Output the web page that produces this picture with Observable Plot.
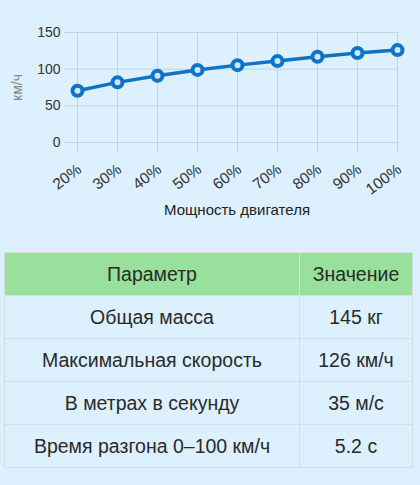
<!DOCTYPE html>
<html>
<head>
<meta charset="utf-8">
<script src="https://cdn.jsdelivr.net/npm/d3@7"></script>
<script src="https://cdn.jsdelivr.net/npm/@observablehq/plot@0.6"></script>
<style>
  html, body { margin: 0; padding: 0; background: #ddf0fd; }
  body { width: 420px; height: 485px; overflow: hidden; font-family: "Liberation Sans", Arial, sans-serif; }
  #chart svg { display: block; background: transparent; }
  table { border-collapse: collapse; margin: 22px 0 0 4px; width: 409px; font-size: 19.5px; color: #2a2a2a; }
  th, td { border: 1px solid #d6dde3; text-align: center; font-weight: normal; padding: 0; }
  th { background: #98e09c; height: 42px; }
  td { height: 42px; }
  td:first-child, th:first-child { width: 294px; }
</style>
</head>
<body>
<div id="chart"></div>
<div id="table"></div>
<script>
const powerLabels = ["20%", "30%", "40%", "50%", "60%", "70%", "80%", "90%", "100%"];
const speeds = [70.5, 82, 91, 99, 105.5, 111, 117, 122, 126];
const yTicks = [0, 50, 100, 150];
const params = ["Общая масса", "Максимальная скорость", "В метрах в секунду", "Время разгона 0–100 км/ч"];
const paramValues = ["145 кг", "126 км/ч", "35 м/с", "5.2 с"];
const headers = ["Параметр", "Значение"];

const data = powerLabels.map((p, i) => ({power: p, speed: speeds[i]}));
const gridColor = "#c3d3df";

const chart = Plot.plot({
  width: 420,
  height: 230,
  marginLeft: 74,
  marginRight: 21,
  marginTop: 32,
  marginBottom: 88,
  style: {fontFamily: "'Liberation Sans', Arial, sans-serif", background: "transparent"},
  x: {type: "point", domain: powerLabels, padding: 0},
  y: {domain: [0, 150]},
  marks: [
    Plot.gridX(powerLabels, {stroke: gridColor, strokeOpacity: 1}),
    Plot.gridY(yTicks, {stroke: gridColor, strokeOpacity: 1}),
    Plot.axisY(yTicks, {tickSize: 10, stroke: gridColor, tickPadding: 4, fontSize: 14, fill: "#333",
      label: "км/ч", labelAnchor: "center", labelArrow: "none", labelOffset: 62}),
    Plot.axisX(powerLabels, {tickSize: 10, stroke: gridColor, tickRotate: -37, tickPadding: 8, fontSize: 15.5, fill: "#333",
      label: "Мощность двигателя", labelAnchor: "center", labelArrow: "none", labelOffset: 72}),
    Plot.line(data, {x: "power", y: "speed", stroke: "#0f74c6", strokeWidth: 3.5}),
    Plot.dot(data, {x: "power", y: "speed", r: 5, stroke: "#0f74c6", strokeWidth: 4, fill: "#cfe5f8"})
  ]
});
document.getElementById("chart").appendChild(chart);

const svg = d3.select(chart);
svg.selectAll("[aria-label='y-axis label'] text").attr("fill", "#888").attr("font-size", 14);
svg.selectAll("[aria-label='x-axis label'] text").attr("fill", "#222").attr("font-size", 15);
svg.selectAll("[aria-label='x-axis tick label'] text").each(function() {
  const t = this.getAttribute("transform") || "";
  this.setAttribute("transform", "translate(2,7) " + t);
});

const table = d3.select("#table").append("table");
table.append("tr").selectAll("th").data(headers).join("th").text(d => d);
table.selectAll("tr.row").data(params).join("tr").attr("class", "row")
  .selectAll("td").data((d, i) => [d, paramValues[i]]).join("td").text(d => d);
</script>
</body>
</html>
